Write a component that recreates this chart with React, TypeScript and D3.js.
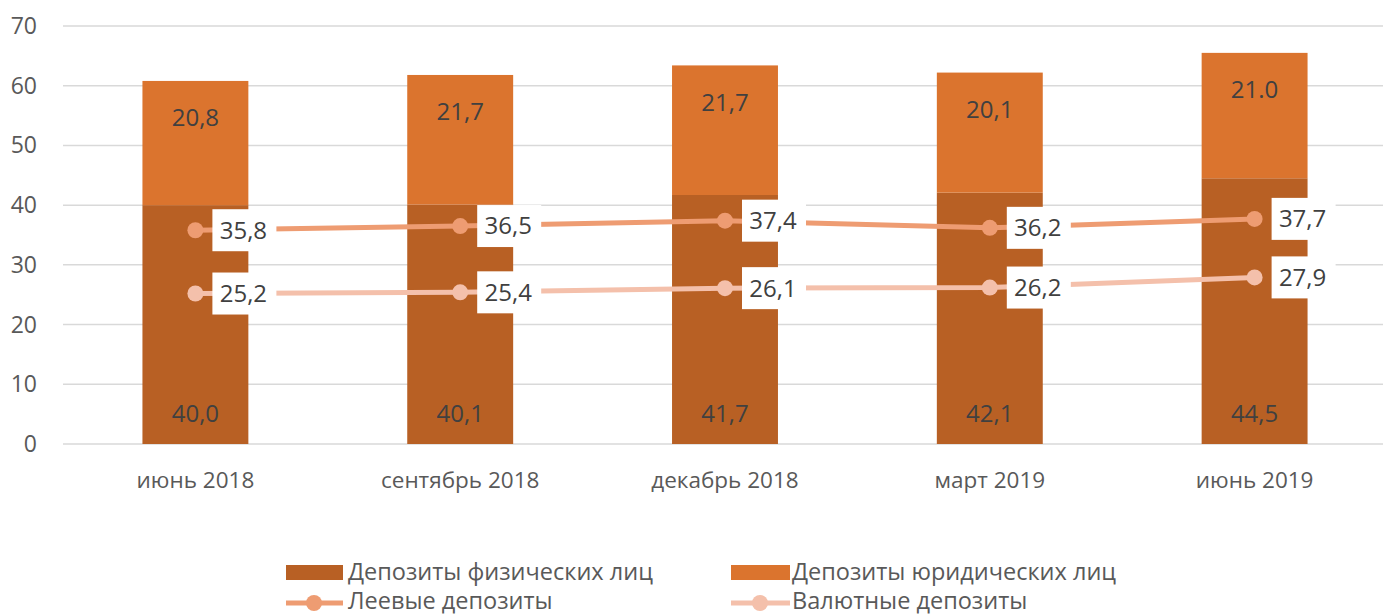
import React from "react";
import * as d3 from "d3";

const categories = ["июнь 2018", "сентябрь 2018", "декабрь 2018", "март 2019", "июнь 2019"];
const physical = [40.0, 40.1, 41.7, 42.1, 44.5];
const physicalLabels = ["40,0", "40,1", "41,7", "42,1", "44,5"];
const legal = [20.8, 21.7, 21.7, 20.1, 21.0];
const legalLabels = ["20,8", "21,7", "21,7", "20,1", "21.0"];
const leev = [35.8, 36.5, 37.4, 36.2, 37.7];
const leevLabels = ["35,8", "36,5", "37,4", "36,2", "37,7"];
const currency = [25.2, 25.4, 26.1, 26.2, 27.9];
const currencyLabels = ["25,2", "25,4", "26,1", "26,2", "27,9"];
const yTicks = [0, 10, 20, 30, 40, 50, 60, 70];

const W = 1383;
const H = 616;
const FONT = "'Open Sans', 'DejaVu Sans', sans-serif";

const C_PHYS = "#B86024";
const C_LEGAL = "#DB742E";
const C_LEEV = "#EE9C72";
const C_CURR = "#F4C0AB";

export default function App() {
  const x = d3.scaleBand<string>().domain(categories).range([63, 1387]).paddingInner(0.6).paddingOuter(0.3);
  const y = d3.scaleLinear().domain([0, 70]).range([444, 26]);
  const cx = (c: string) => (x(c) as number) + x.bandwidth() / 2;

  const line = d3.line<number>().x((_, i) => cx(categories[i])).y((d) => y(d));

  const lineSeries = [
    { vals: leev, labels: leevLabels, color: C_LEEV },
    { vals: currency, labels: currencyLabels, color: C_CURR },
  ];

  return (
    <div style={{ position: "fixed", left: 0, top: 0 }}>
      <svg width={W} height={H} style={{ display: "block", background: "#fff" }} fontFamily={FONT}>
        {/* grid + y axis */}
        {yTicks.map((t) => (
          <g key={t}>
            <line x1={63} x2={W} y1={y(t)} y2={y(t)} stroke="#D9D9D9" strokeWidth={1.5} />
            <text x={37} y={y(t)} dy="0.35em" textAnchor="end" fontSize={23} fill="#595959">
              {t}
            </text>
          </g>
        ))}

        {/* stacked bars */}
        {categories.map((c, i) => {
          const x0 = x(c) as number;
          const bw = x.bandwidth();
          const top1 = y(physical[i]);
          const top2 = y(physical[i] + legal[i]);
          return (
            <g key={c}>
              <rect x={x0} y={top1} width={bw} height={y(0) - top1} fill={C_PHYS} />
              <rect x={x0} y={top2} width={bw} height={top1 - top2} fill={C_LEGAL} />
              <text x={x0 + bw / 2} y={y(0) - 30} dy="0.35em" textAnchor="middle" fontSize={24} fill="#404040">
                {physicalLabels[i]}
              </text>
              <text x={x0 + bw / 2} y={top2 + 37} dy="0.35em" textAnchor="middle" fontSize={24} fill="#404040">
                {legalLabels[i]}
              </text>
              <text x={x0 + bw / 2} y={480} dy="0.35em" textAnchor="middle" fontSize={22.5} fill="#595959">
                {c}
              </text>
            </g>
          );
        })}

        {/* lines */}
        {lineSeries.map((s, k) => (
          <g key={k}>
            <path d={line(s.vals) || ""} fill="none" stroke={s.color} strokeWidth={5} />
            {s.vals.map((v, i) => (
              <circle key={i} cx={cx(categories[i])} cy={y(v)} r={8} fill={s.color} />
            ))}
          </g>
        ))}
        {lineSeries.map((s, k) => (
          <g key={"lab" + k}>
            {s.vals.map((v, i) => (
              <g key={i}>
                <rect x={cx(categories[i]) + 17} y={y(v) - 21} width={64} height={42} fill="#fff" />
                <text x={cx(categories[i]) + 48} y={y(v)} dy="0.35em" textAnchor="middle" fontSize={24} fill="#404040">
                  {s.labels[i]}
                </text>
              </g>
            ))}
          </g>
        ))}

        {/* legend */}
        <g fontSize={23.5} fill="#595959">
          <rect x={286} y={565} width={57} height={15} fill={C_PHYS} />
          <text x={348} y={572} dy="0.35em">Депозиты физических лиц</text>
          <rect x={731} y={565} width={59} height={15} fill={C_LEGAL} />
          <text x={792} y={572} dy="0.35em">Депозиты юридических лиц</text>
          <line x1={286} x2={343} y1={603} y2={603} stroke={C_LEEV} strokeWidth={5} />
          <circle cx={314} cy={603} r={8} fill={C_LEEV} />
          <text x={348} y={601} dy="0.35em">Леевые депозиты</text>
          <line x1={731} x2={790} y1={603} y2={603} stroke={C_CURR} strokeWidth={5} />
          <circle cx={760} cy={603} r={8} fill={C_CURR} />
          <text x={792} y={601} dy="0.35em">Валютные депозиты</text>
        </g>
      </svg>
    </div>
  );
}
